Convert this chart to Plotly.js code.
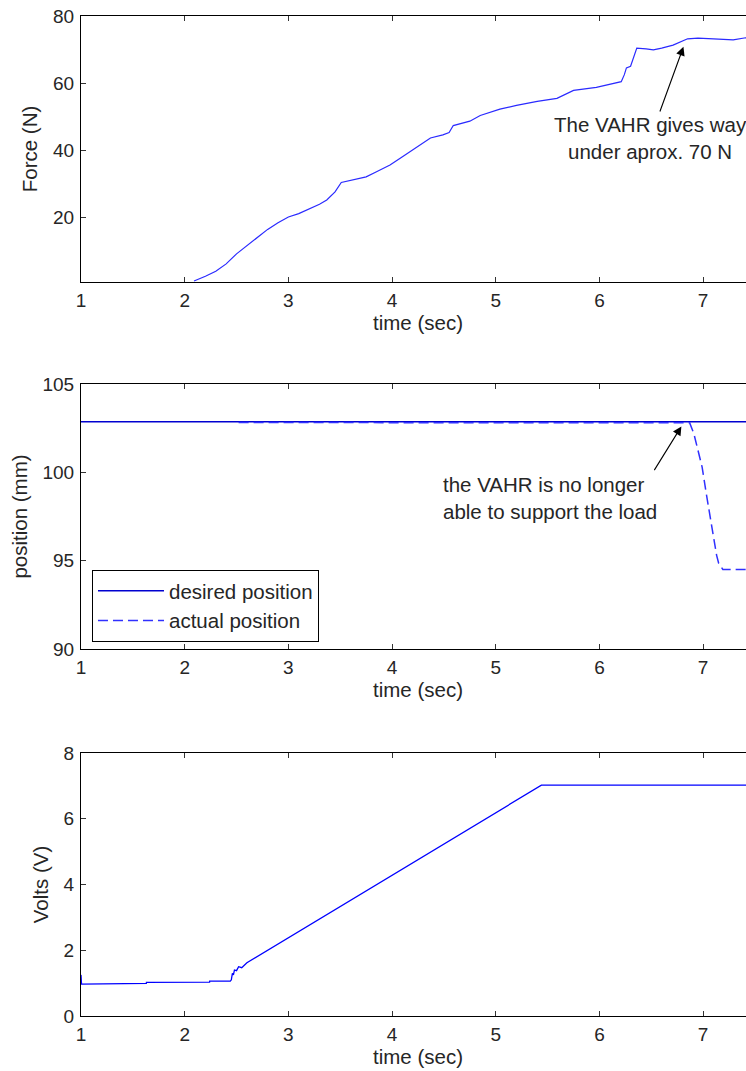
<!DOCTYPE html>
<html>
<head>
<meta charset="utf-8">
<script src="https://cdn.plot.ly/plotly-3.0.1.min.js"></script>
<style>
html,body{margin:0;padding:0;background:#fff;overflow:hidden;width:746px;height:1071px;}
#chart{width:780px;height:1071px;}
</style>
</head>
<body>
<div id="chart"></div>
<script>
// ---- Force (top panel) ----
const forceTime = [2.09,2.15,2.2,2.3,2.4,2.5,2.6,2.7,2.8,2.9,3.0,3.1,3.2,3.3,3.37,3.45,3.51,3.6,3.75,3.85,3.98,4.1,4.2,4.37,4.49,4.55,4.59,4.65,4.75,4.85,5.04,5.2,5.4,5.59,5.75,5.97,6.1,6.21,6.24,6.26,6.3,6.33,6.36,6.45,6.52,6.6,6.71,6.85,6.95,7.1,7.29,7.41,7.5];
const forceN    = [0.9,1.6,2.3,3.8,6.0,9.0,11.5,14.0,16.3,18.3,20.0,21.0,22.3,23.8,25.1,27.5,30.3,31.0,32.0,33.5,35.5,38.0,40.0,43.6,44.5,45.2,47.3,47.8,48.6,50.3,52.2,53.3,54.5,55.4,57.8,58.7,59.6,60.4,62.5,64.5,65.0,68.0,70.4,70.2,69.9,70.4,71.3,73.2,73.4,73.2,72.9,73.5,73.3];

// ---- Position (middle panel) ----
const desiredTime = [1, 7.5];
const desiredPos  = [102.87, 102.87];
const actualTime  = [2.52,6.87,6.91,6.95,6.99,7.03,7.07,7.10,7.13,7.15,7.19,7.5];
const actualPos   = [102.82,102.8,102.2,101.3,100.3,98.8,97.3,96.2,95.3,94.85,94.5,94.5];

// ---- Volts (bottom panel) ----
const voltTime = [1,1.005,1.63,1.631,2.24,2.241,2.44,2.45,2.46,2.47,2.48,2.5,2.52,2.55,2.6,5.44,7.5];
const volts    = [1.25,0.97,0.99,1.02,1.03,1.06,1.06,1.1,1.3,1.25,1.4,1.38,1.5,1.47,1.62,7.02,7.02];

// ---- Ticks & labels ----
const xTicks = [1,2,3,4,5,6,7];
const forceTicks = [20,40,60,80];
const posTicks = [90,95,100,105];
const voltTicks = [0,2,4,6,8];
const xTitle = 'time (sec)';
const yTitles = ['Force (N)','position (mm)','Volts (V)'];
const legendNames = ['desired position','actual position'];

const FONT = '"Liberation Sans", Arial, Helvetica, sans-serif';
const TXT = '#262626';
const TS = 20.5;   // text size
const KS = 19;     // tick size
const H = 1071;
function dom(top, bottom){ return [1 - bottom/H, 1 - top/H]; }

function xa(anchor){
  return {domain:[0,1], anchor:anchor, range:[1,7.5], tickvals:xTicks, ticks:'inside', ticklen:5,
    tickcolor:'#333', showline:true, linecolor:'#000', linewidth:1, mirror:'ticks', showgrid:false,
    zeroline:false, ticklabelstandoff:1, automargin:false,
    tickfont:{family:FONT,size:KS,color:TXT},
    title:{text:xTitle, font:{family:FONT,size:TS,color:TXT}, standoff:3}};
}
function ya(domain, anchor, range, ticks, title){
  return {domain:domain, anchor:anchor, range:range, tickvals:ticks, ticks:'inside', ticklen:5,
    tickcolor:'#333', showline:true, linecolor:'#000', linewidth:1, mirror:'ticks', showgrid:false,
    zeroline:false, ticklabelstandoff:2, automargin:'left',
    tickfont:{family:FONT,size:KS,color:TXT},
    title:{text:title, font:{family:FONT,size:TS,color:TXT}, standoff:9}};
}

const traces = [
  {x:forceTime, y:forceN, xaxis:'x', yaxis:'y', mode:'lines', line:{color:'#2a2aff', width:1.2}, showlegend:false},
  {x:desiredTime, y:desiredPos, xaxis:'x2', yaxis:'y2', mode:'lines', name:legendNames[0], line:{color:'#0000d0', width:1.5}},
  {x:actualTime, y:actualPos, xaxis:'x2', yaxis:'y2', mode:'lines', name:legendNames[1], line:{color:'#3030ff', width:1.5, dash:'10px,5px'}},
  {x:voltTime, y:volts, xaxis:'x3', yaxis:'y3', mode:'lines', line:{color:'#0000ff', width:1.3}, showlegend:false}
];

const layout = {
  width:780, height:H,
  margin:{l:81, r:25, t:0, b:0},
  paper_bgcolor:'#fff', plot_bgcolor:'#fff',
  font:{family:FONT, size:TS, color:TXT},
  xaxis: xa('y'),
  yaxis: ya(dom(16,282),'x',[0.6,80],forceTicks,yTitles[0]),
  xaxis2: xa('y2'),
  yaxis2: ya(dom(384,649),'x2',[90,105],posTicks,yTitles[1]),
  xaxis3: xa('y3'),
  yaxis3: ya(dom(753,1016),'x3',[0,8],voltTicks,yTitles[2]),
  showlegend:true,
  legend:{x:0.0163, y:1-570/H, xanchor:'left', yanchor:'top', bgcolor:'#fff',
    bordercolor:'#000', borderwidth:1, font:{family:FONT,size:TS,color:TXT}, itemwidth:66},
  annotations:[
    {xref:'x', yref:'y', x:6.81, y:70.8, axref:'x', ayref:'y', ax:6.49, ay:43.6,
     text:'The VAHR gives way<br>under aprox. 70 N', showarrow:true, arrowhead:2, arrowsize:1.6,
     arrowwidth:1.1, arrowcolor:'#000', align:'center', font:{family:FONT,size:TS,color:TXT}},
    {xref:'x2', yref:'y2', x:6.79, y:102.6, axref:'x2', ayref:'y2', ax:6.52, ay:100.04,
     text:'', showarrow:true, arrowhead:2, arrowsize:1.6, arrowwidth:1.1, arrowcolor:'#000'},
    {xref:'x2', yref:'y2', x:4.469, y:98.53, xanchor:'left', yanchor:'middle', align:'left',
     text:'the VAHR is no longer<br>able to support the load', showarrow:false,
     font:{family:FONT,size:TS,color:TXT}}
  ]
};

Plotly.newPlot('chart', traces, layout, {displayModeBar:false, staticPlot:true});
</script>
</body>
</html>
